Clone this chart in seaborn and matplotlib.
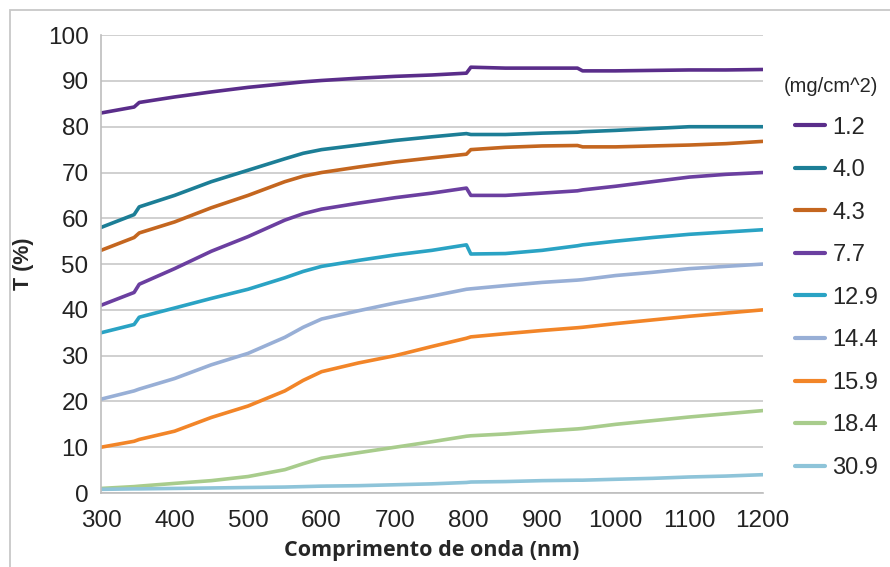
import pandas as pd
import seaborn as sns
import matplotlib.pyplot as plt
from matplotlib.patches import Rectangle

# wavelength grid (nm), with near-duplicate points at the steps
wl = [300, 345, 352, 400, 450, 500, 550, 575, 600, 650, 700, 750, 797, 803, 850, 900, 948, 955, 1000, 1050, 1100, 1150, 1200]

t_1_2 = [83.0, 84.3, 85.3, 86.5, 87.6, 88.6, 89.4, 89.8, 90.1, 90.6, 91.0, 91.3, 91.7, 93.0, 92.8, 92.8, 92.8, 92.2, 92.2, 92.3, 92.4, 92.4, 92.5]
t_4_0 = [58.0, 60.8, 62.5, 65.0, 68.0, 70.5, 73.0, 74.2, 75.0, 76.0, 77.0, 77.8, 78.5, 78.3, 78.3, 78.6, 78.8, 78.9, 79.2, 79.6, 80.0, 80.0, 80.0]
t_4_3 = [53.0, 55.8, 56.8, 59.2, 62.3, 65.0, 68.0, 69.2, 70.0, 71.2, 72.3, 73.2, 74.0, 75.0, 75.5, 75.8, 75.9, 75.6, 75.6, 75.8, 76.0, 76.3, 76.8]
t_7_7 = [41.0, 43.8, 45.6, 49.0, 52.8, 56.0, 59.6, 61.0, 62.0, 63.3, 64.5, 65.5, 66.6, 65.0, 65.0, 65.5, 66.0, 66.2, 67.0, 68.0, 69.0, 69.6, 70.0]
t_12_9 = [35.0, 36.8, 38.4, 40.4, 42.5, 44.5, 47.0, 48.4, 49.5, 50.8, 52.0, 53.0, 54.2, 52.2, 52.3, 53.0, 54.0, 54.2, 55.0, 55.8, 56.5, 57.0, 57.5]
t_14_4 = [20.5, 22.3, 22.7, 25.0, 28.0, 30.5, 34.0, 36.2, 38.0, 39.8, 41.5, 43.0, 44.5, 44.6, 45.3, 46.0, 46.5, 46.6, 47.5, 48.2, 49.0, 49.5, 50.0]
t_15_9 = [10.0, 11.3, 11.7, 13.5, 16.5, 19.0, 22.3, 24.6, 26.5, 28.4, 30.0, 32.0, 33.8, 34.1, 34.8, 35.5, 36.1, 36.2, 37.0, 37.8, 38.6, 39.3, 40.0]
t_18_4 = [1.0, 1.4, 1.5, 2.1, 2.7, 3.6, 5.1, 6.4, 7.6, 8.8, 10.0, 11.2, 12.4, 12.5, 12.9, 13.5, 14.0, 14.1, 15.0, 15.8, 16.6, 17.3, 18.0]
t_30_9 = [0.8, 0.9, 0.9, 1.0, 1.1, 1.2, 1.3, 1.4, 1.5, 1.6, 1.8, 2.0, 2.3, 2.4, 2.5, 2.7, 2.8, 2.8, 3.0, 3.2, 3.5, 3.7, 4.0]

labels = ["1.2", "4.0", "4.3", "7.7", "12.9", "14.4", "15.9", "18.4", "30.9"]
series = [t_1_2, t_4_0, t_4_3, t_7_7, t_12_9, t_14_4, t_15_9, t_18_4, t_30_9]
colors = ["#5a2d8a", "#1c7e96", "#c4661f", "#6b3fa0", "#2aa3c4",
          "#98afd6", "#f28528", "#a8cc8c", "#8ec4d9"]

rows = []
for lab, vals in zip(labels, series):
    for x, y in zip(wl, vals):
        rows.append({"wl": x, "T": y, "conc": lab})
df = pd.DataFrame(rows)

sns.set_style("white")
plt.rcParams["font.family"] = ["Liberation Sans", "DejaVu Sans"]

fig = plt.figure(figsize=(8.9, 5.67), dpi=100)
ax = fig.add_axes([0.1135, 0.1305, 0.7435, 0.8075])

sns.lineplot(data=df, x="wl", y="T", hue="conc", hue_order=labels,
             palette=colors, linewidth=2.6, sort=False, ax=ax)

ax.set_xlim(300, 1200)
ax.set_ylim(0, 100)
ax.set_xticks(range(300, 1201, 100))
ax.set_yticks(range(0, 101, 10))
ax.yaxis.grid(True, color="#c8c8c8", linewidth=1.2)
ax.xaxis.grid(False)
for side in ["top", "right"]:
    ax.spines[side].set_visible(False)
for side in ["left", "bottom"]:
    ax.spines[side].set_color("#bdbdbd")
    ax.spines[side].set_linewidth(1.2)
ax.tick_params(axis="both", length=6, width=1.2, color="#bdbdbd",
               labelsize=17.5, labelcolor="#222222", direction="out")
ax.tick_params(axis="y", pad=3)
ax.tick_params(axis="x", pad=6)

ax.set_xlabel("Comprimento de onda (nm)", fontsize=15.5, fontweight="bold",
              family=["Open Sans", "DejaVu Sans"], labelpad=6)
ax.set_ylabel("T (%)", fontsize=15.5, fontweight="bold", labelpad=10)

leg = ax.legend(title="(mg/cm^2)", loc="upper left", bbox_to_anchor=(1.0, 0.955),
                frameon=False, fontsize=17, title_fontsize=14.5,
                handlelength=1.3, handletextpad=0.3, labelspacing=0.87)
for line in leg.get_lines():
    line.set_linewidth(3)
leg._legend_box.align = "right"

# light frame around the whole picture (left and top edges visible)
fig.patches.append(Rectangle((0.011, -0.05), 1.1, 1.032, transform=fig.transFigure,
                             fill=False, edgecolor="#c8c8c8", linewidth=1.3))

fig.savefig("out.png", dpi=100)
